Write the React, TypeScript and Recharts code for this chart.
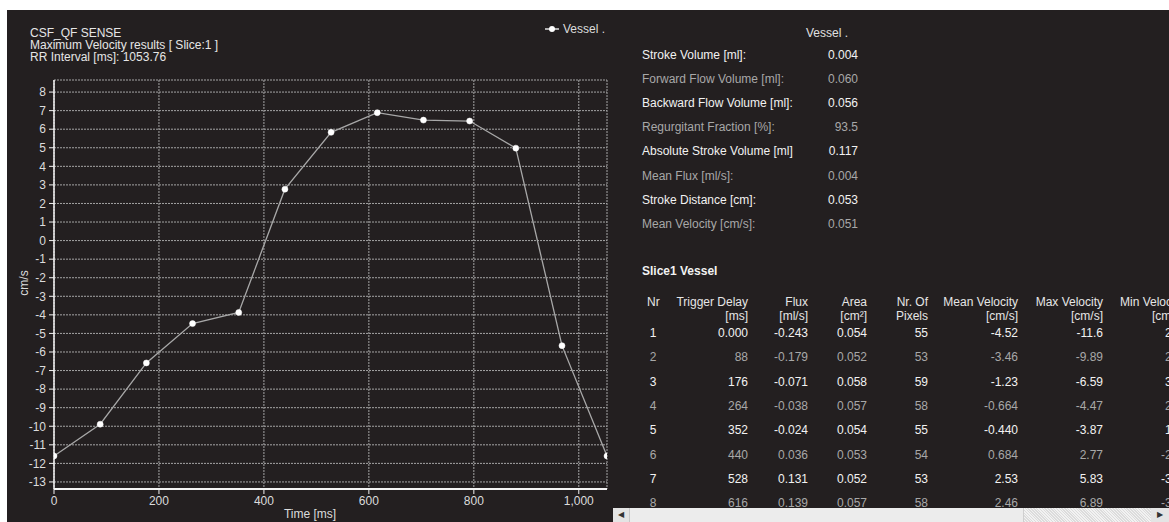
import { LineChart, Line, XAxis, YAxis, CartesianGrid } from 'recharts';

const triggerTimes = [0, 88, 176, 264, 352, 440, 528, 616, 704, 792, 880, 968, 1053.76];
const maxVelocity = [-11.6, -9.89, -6.59, -4.47, -3.87, 2.77, 5.83, 6.89, 6.49, 6.44, 4.98, -5.66, -11.6];
const yTicks = [8, 7, 6, 5, 4, 3, 2, 1, 0, -1, -2, -3, -4, -5, -6, -7, -8, -9, -10, -11, -12, -13];
const xTicks = [0, 200, 400, 600, 800, 1000];

const titleLines = ['CSF_QF SENSE', 'Maximum Velocity results [ Slice:1 ]', 'RR Interval [ms]: 1053.76'];

const summaryLabels = [
  'Stroke Volume [ml]:',
  'Forward Flow Volume [ml]:',
  'Backward Flow Volume [ml]:',
  'Regurgitant Fraction [%]:',
  'Absolute Stroke Volume [ml]',
  'Mean Flux [ml/s]:',
  'Stroke Distance [cm]:',
  'Mean Velocity [cm/s]:',
];
const summaryValues = ['0.004', '0.060', '0.056', '93.5', '0.117', '0.004', '0.053', '0.051'];

const rowNr = ['1', '2', '3', '4', '5', '6', '7', '8'];
const triggerDelay = ['0.000', '88', '176', '264', '352', '440', '528', '616'];
const flux = ['-0.243', '-0.179', '-0.071', '-0.038', '-0.024', '0.036', '0.131', '0.139'];
const area = ['0.054', '0.052', '0.058', '0.057', '0.054', '0.053', '0.052', '0.057'];
const pixels = ['55', '53', '59', '58', '55', '54', '53', '58'];
const meanVel = ['-4.52', '-3.46', '-1.23', '-0.664', '-0.440', '0.684', '2.53', '2.46'];
const maxVel = ['-11.6', '-9.89', '-6.59', '-4.47', '-3.87', '2.77', '5.83', '6.89'];
const minVel = ['2', '2', '3', '2', '1', '-2', '-3', '-3'];

const data = triggerTimes.map((t, i) => ({ t, v: maxVelocity[i] }));

const FONT = '"Liberation Sans", Arial, sans-serif';
const BRIGHT = '#f2f2f2';
const DIM = '#a8a8a8';
const BG = '#231f20';

// table columns: [header1, header2, values, right edge]
const columns: [string, string, string[], number][] = [
  ['Trigger Delay', '[ms]', triggerDelay, 748],
  ['Flux', '[ml/s]', flux, 808],
  ['Area', '[cm²]', area, 867],
  ['Nr. Of', 'Pixels', pixels, 928],
  ['Mean Velocity', '[cm/s]', meanVel, 1018],
  ['Max Velocity', '[cm/s]', maxVel, 1103],
];

function RightText({ x, y, color, children, bold }: any) {
  return (
    <div style={{ position: 'absolute', right: 1169 - x, top: y, color, whiteSpace: 'nowrap', fontWeight: bold ? 'bold' : 'normal', lineHeight: '14px' }}>
      {children}
    </div>
  );
}

function LeftText({ x, y, color, children, bold }: any) {
  return (
    <div style={{ position: 'absolute', left: x, top: y, color, whiteSpace: 'nowrap', fontWeight: bold ? 'bold' : 'normal', lineHeight: '14px' }}>
      {children}
    </div>
  );
}

export default function App() {
  const rowTop = (i: number) => 326 + i * 24.3;
  return (
    <div style={{ position: 'absolute', left: 0, top: 0, width: 1169, height: 522, background: '#fff', overflow: 'hidden', fontFamily: FONT, fontSize: 12 }}>
      <div style={{ position: 'absolute', left: 7, top: 10, width: 1162, height: 512, background: BG }} />

      {/* chart */}
      <div style={{ position: 'absolute', left: 7, top: 10 }}>
        <LineChart width={605} height={512} data={data} margin={{ top: 70, right: 5, bottom: 0, left: 0 }}>
          <CartesianGrid stroke="#a5a5a5" strokeDasharray="2 1" />
          <XAxis
            dataKey="t"
            type="number"
            domain={[0, 1053.76]}
            ticks={xTicks}
            tickFormatter={(v: number) => v.toLocaleString('en-US')}
            height={33}
            axisLine={{ stroke: '#f4f4f4', strokeWidth: 2 }}
            tickLine={{ stroke: '#f4f4f4' }}
            tickSize={5}
            tick={{ fill: '#dcdcdc', fontSize: 12, fontFamily: FONT }}
            allowDataOverflow
          />
          <YAxis
            type="number"
            domain={[-13.38, 8.65]}
            ticks={yTicks}
            interval={0}
            width={47}
            axisLine={{ stroke: '#f4f4f4', strokeWidth: 1.5 }}
            tickLine={{ stroke: '#f4f4f4' }}
            tickSize={5}
            tickMargin={3}
            tick={{ fill: '#dcdcdc', fontSize: 12, fontFamily: FONT }}
            allowDataOverflow
          />
          <Line
            dataKey="v"
            type="linear"
            stroke="#a8a8a8"
            strokeWidth={1.3}
            dot={{ r: 3, fill: '#ffffff', stroke: '#ffffff', strokeWidth: 0.5 }}
            isAnimationActive={false}
          />
        </LineChart>
      </div>

      {/* chart titles */}
      {titleLines.map((s, i) => (
        <div key={s} style={{ position: 'absolute', left: 30, top: 27 + i * 12, color: '#e6e6e6', lineHeight: '12px', whiteSpace: 'nowrap' }}>
          {s}
        </div>
      ))}
      <div style={{ position: 'absolute', left: 24, top: 283, color: '#dcdcdc', transform: 'translate(-50%, -50%) rotate(-90deg)', whiteSpace: 'nowrap' }}>cm/s</div>
      <div style={{ position: 'absolute', left: 310, top: 507, color: '#dcdcdc', transform: 'translateX(-50%)', whiteSpace: 'nowrap', lineHeight: '14px' }}>Time [ms]</div>

      {/* legend */}
      <div style={{ position: 'absolute', left: 545, top: 22, display: 'flex', alignItems: 'center', color: '#dcdcdc' }}>
        <svg width={14} height={8} style={{ marginRight: 4 }}>
          <line x1={0} y1={4} x2={14} y2={4} stroke="#e0e0e0" strokeWidth={1.5} />
          <circle cx={7} cy={4} r={3} fill="#fff" />
        </svg>
        <span>Vessel .</span>
      </div>

      {/* summary table */}
      <RightText x={848} y={26} color="#e0e0e0">Vessel .</RightText>
      {summaryLabels.map((s, i) => (
        <div key={s}>
          <LeftText x={642} y={48 + i * 24.1} color={i % 2 === 0 ? BRIGHT : DIM}>{s}</LeftText>
          <RightText x={858} y={48 + i * 24.1} color={i % 2 === 0 ? BRIGHT : DIM}>{summaryValues[i]}</RightText>
        </div>
      ))}

      {/* slice table */}
      <LeftText x={642} y={264} color={BRIGHT} bold>Slice1 Vessel</LeftText>
      <div style={{ position: 'absolute', left: 647, top: 295, color: '#e6e6e6', lineHeight: '14px' }}>Nr</div>
      {columns.map(([h1, h2, vals, right]) => (
        <div key={h1}>
          <RightText x={right} y={295} color="#e6e6e6">{h1}</RightText>
          <RightText x={right} y={309} color="#e6e6e6">{h2}</RightText>
          {vals.map((v, i) => (
            <RightText key={i} x={right} y={rowTop(i)} color={i % 2 === 0 ? BRIGHT : DIM}>{v}</RightText>
          ))}
        </div>
      ))}
      {/* last column, cut at the window edge */}
      <LeftText x={1120} y={295} color="#e6e6e6">Min Velocity</LeftText>
      <LeftText x={1152} y={309} color="#e6e6e6">[cm/s]</LeftText>
      {minVel.map((v, i) => (
        <LeftText key={i} x={v.startsWith('-') ? 1161 : 1165} y={rowTop(i)} color={i % 2 === 0 ? BRIGHT : DIM}>{v}</LeftText>
      ))}
      {rowNr.map((n, i) => (
        <div key={n} style={{ position: 'absolute', left: 653, top: rowTop(i), transform: 'translateX(-50%)', color: i % 2 === 0 ? BRIGHT : DIM, lineHeight: '14px' }}>{n}</div>
      ))}

      {/* scrollbar */}
      <div style={{ position: 'absolute', left: 613, top: 508, width: 556, height: 14, background: '#e9e9e9' }}>
        <div style={{ position: 'absolute', left: 0, top: 0, width: 16, height: 14, background: '#e4e4e4', borderRight: '1px solid #c8c8c8', fontSize: 8, lineHeight: '14px', textAlign: 'center', color: '#333' }}>◀</div>
        <div style={{ position: 'absolute', left: 17, top: 0, width: 393, height: 14, background: '#ececec', borderRight: '1px solid #cfcfcf' }} />
        <div style={{ position: 'absolute', left: 411, top: 0, width: 127, height: 14, backgroundImage: 'repeating-linear-gradient(45deg, #dcdcdc 0 1px, #f2f2f2 1px 2px)' }} />
        <div style={{ position: 'absolute', right: 0, top: 0, width: 18, height: 14, background: '#e4e4e4', fontSize: 8, lineHeight: '14px', textAlign: 'center', color: '#333' }}>▶</div>
      </div>
    </div>
  );
}
